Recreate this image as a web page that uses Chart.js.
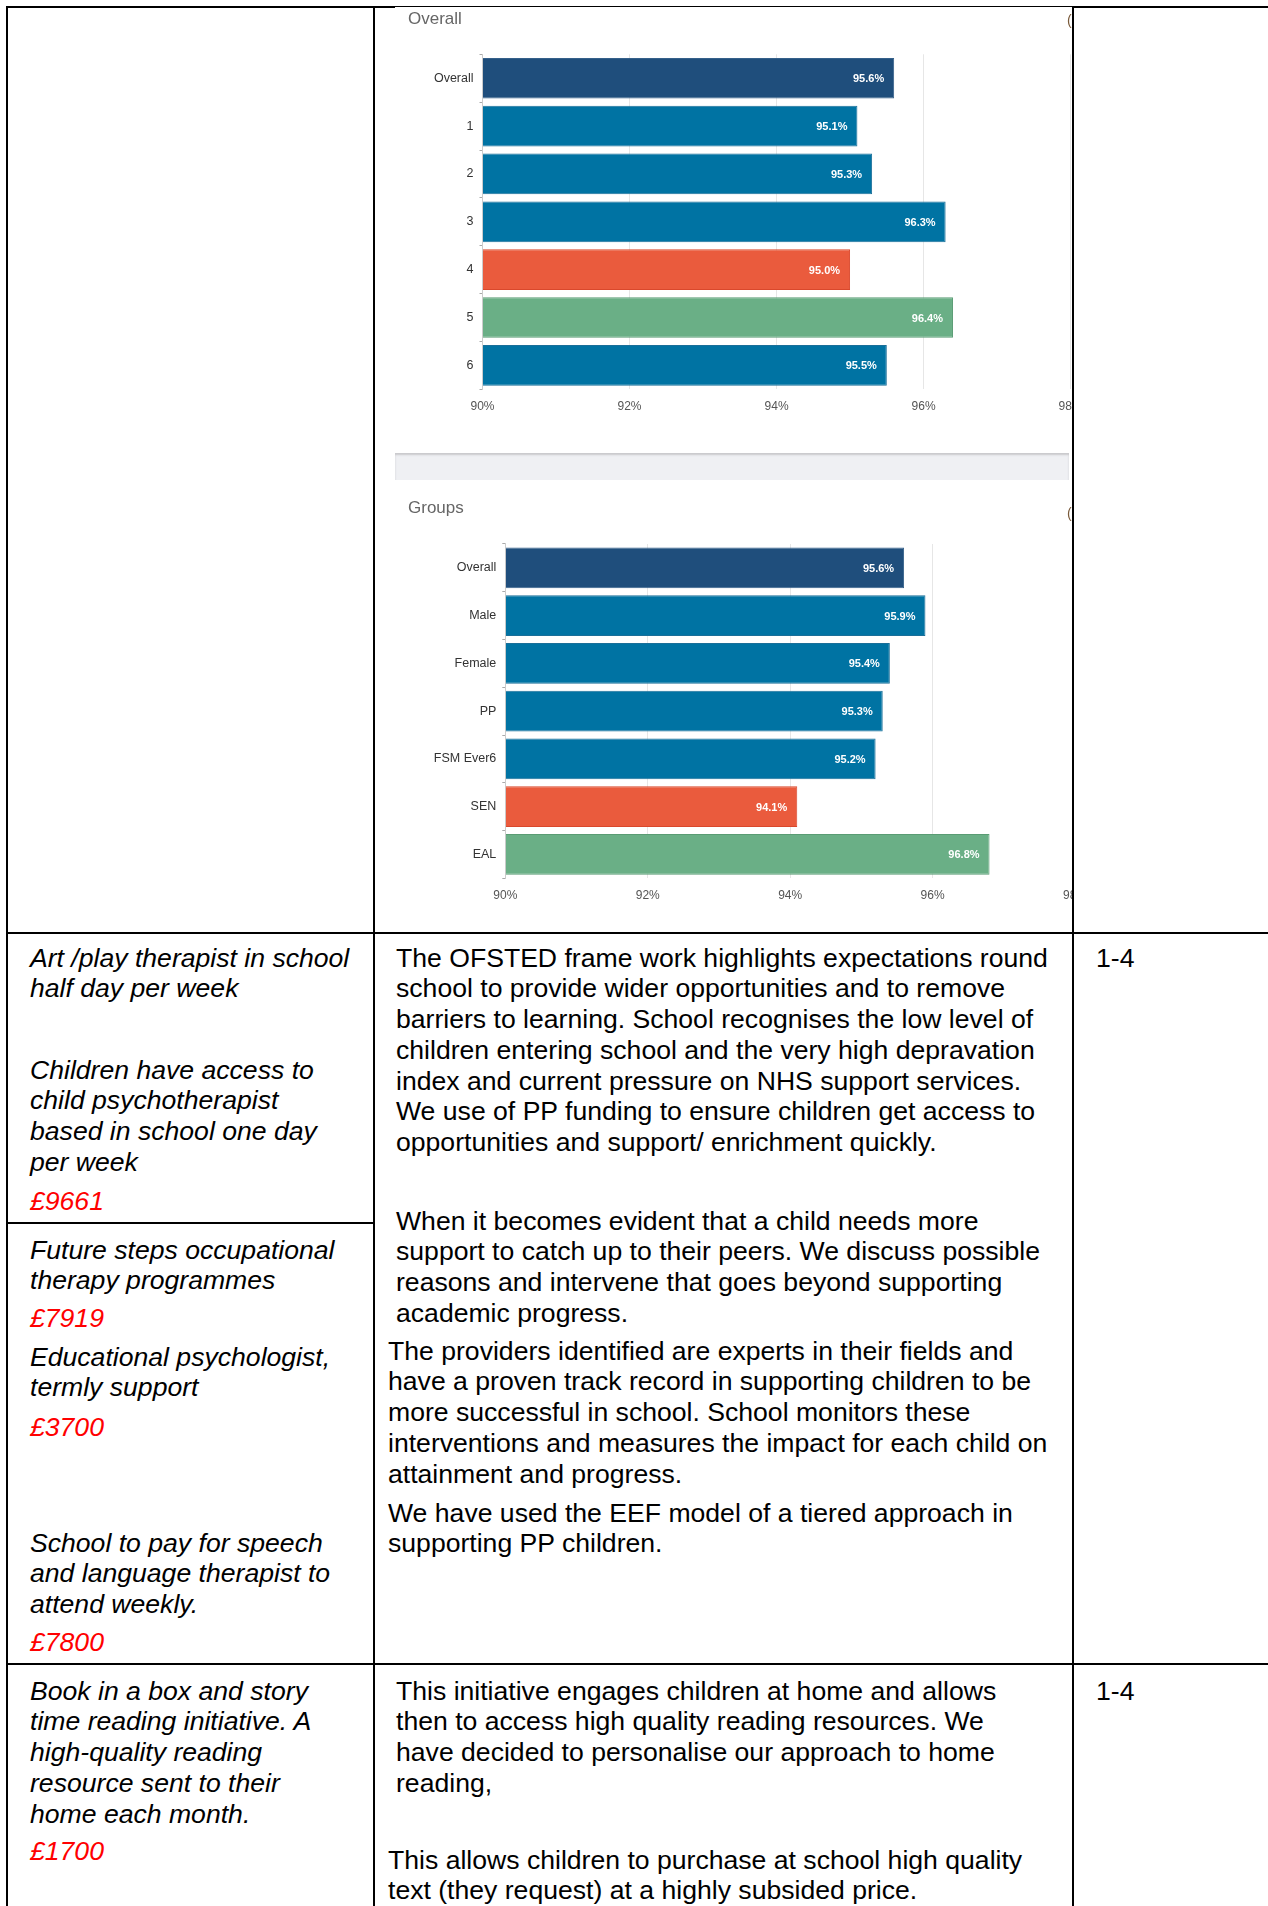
<!DOCTYPE html>
<html>
<head>
<meta charset="utf-8">
<script src="https://cdn.jsdelivr.net/npm/chart.js@4.4.0/dist/chart.umd.min.js"></script>
<style>
  html, body { margin: 0; padding: 0; background: #fff; }
  body { position: relative; width: 1268px; height: 1906px; overflow: hidden;
         font-family: "Liberation Sans", Arial, sans-serif; color: #000; }
  .ln { position: absolute; background: #000; }
  .t { position: absolute; font-size: 26.6px; line-height: 30.8px; white-space: pre; margin-top: 1.5px; }
  .i { font-style: italic; }
  .red { color: #ff0000; }
  .panel { position: absolute; overflow: hidden; background: #fff; }
  .band { position: absolute; left: 395px; top: 453px; width: 674px; height: 27px;
          background: #eff0f3; box-shadow: inset 0 2px 2px #c9c9cc; }
  .ico { position: absolute; font-size: 14px; color: #7a5a3a; }
</style>
</head>
<body>

<!-- table rules -->
<div class="ln" style="left:6px;top:6px;width:1262px;height:2px"></div>
<div class="ln" style="left:6px;top:6px;width:2px;height:1900px"></div>
<div class="ln" style="left:373px;top:6px;width:2px;height:1900px"></div>
<div class="ln" style="left:1072px;top:6px;width:2px;height:1900px"></div>
<div class="ln" style="left:6px;top:932px;width:1262px;height:2px"></div>
<div class="ln" style="left:6px;top:1222px;width:368px;height:2px"></div>
<div class="ln" style="left:6px;top:1663px;width:1262px;height:2px"></div>

<!-- charts -->
<div class="panel" style="left:395px;top:7px;width:677px;height:446px">
  <canvas id="overallChart" width="720" height="446"></canvas>
</div>
<div class="band"></div>
<div class="panel" style="left:395px;top:480px;width:677px;height:452px">
  <canvas id="groupsChart" width="720" height="452"></canvas>
</div>
<div class="ico" style="left:1067px;top:12px">(</div>
<div class="ico" style="left:1067px;top:505px">(</div>

<!-- left column -->
<div class="t i" style="left:30px;top:941px">Art /play therapist in school
half day per week</div>
<div class="t i" style="left:30px;top:1053px">Children have access to
child psychotherapist
based in school one day
per week</div>
<div class="t i red" style="left:30px;top:1184px">£9661</div>
<div class="t i" style="left:30px;top:1233px">Future steps occupational
therapy programmes</div>
<div class="t i red" style="left:30px;top:1301px">£7919</div>
<div class="t i" style="left:30px;top:1340px">Educational psychologist,
termly support</div>
<div class="t i red" style="left:30px;top:1410px">£3700</div>
<div class="t i" style="left:30px;top:1526px">School to pay for speech
and language therapist to
attend weekly.</div>
<div class="t i red" style="left:30px;top:1625px">£7800</div>
<div class="t i" style="left:30px;top:1674px">Book in a box and story
time reading initiative. A
high-quality reading
resource sent to their
home each month.</div>
<div class="t i red" style="left:30px;top:1834px">£1700</div>

<!-- middle column -->
<div class="t" style="left:396px;top:941px">The OFSTED frame work highlights expectations round
school to provide wider opportunities and to remove
barriers to learning. School recognises the low level of
children entering school and the very high depravation
index and current pressure on NHS support services.
We use of PP funding to ensure children get access to
opportunities and support/ enrichment quickly.</div>
<div class="t" style="left:396px;top:1204px">When it becomes evident that a child needs more
support to catch up to their peers. We discuss possible
reasons and intervene that goes beyond supporting
academic progress.</div>
<div class="t" style="left:388px;top:1334px">The providers identified are experts in their fields and
have a proven track record in supporting children to be
more successful in school. School monitors these
interventions and measures the impact for each child on
attainment and progress.</div>
<div class="t" style="left:388px;top:1496px">We have used the EEF model of a tiered approach in
supporting PP children.</div>
<div class="t" style="left:396px;top:1674px">This initiative engages children at home and allows
then to access high quality reading resources. We
have decided to personalise our approach to home
reading,</div>
<div class="t" style="left:388px;top:1843px">This allows children to purchase at school high quality
text (they request) at a highly subsided price.</div>

<!-- right column -->
<div class="t" style="left:1096px;top:941px">1-4</div>
<div class="t" style="left:1096px;top:1674px">1-4</div>

<script>
// data
const overallLabels = ["Overall", "1", "2", "3", "4", "5", "6"];
const overallValues = [95.6, 95.1, 95.3, 96.3, 95.0, 96.4, 95.5];
const groupLabels = ["Overall", "Male", "Female", "PP", "FSM Ever6", "SEN", "EAL"];
const groupValues = [95.6, 95.9, 95.4, 95.3, 95.2, 94.1, 96.8];
const axisMin = 90;
const axisMax = 98;
const axisStep = 2;

const navy = "#1f4e7c";
const blue = "#0073a3";
const red = "#ea5b3d";
const green = "#6aaf86";
const overallColors = [navy, blue, blue, blue, red, green, blue];
const groupColors = [navy, blue, blue, blue, blue, red, green];
const borderOf = {};
borderOf[navy] = "#35608a";
borderOf[blue] = "#1a6f99";
borderOf[red] = "#d9482c";
borderOf[green] = "#5a9c74";

Chart.defaults.font.family = '"Liberation Sans", Arial, sans-serif';
Chart.defaults.animation = false;

const valueLabels = {
  id: "valueLabels",
  afterDatasetsDraw(chart) {
    const ctx = chart.ctx;
    const meta = chart.getDatasetMeta(0);
    const data = chart.data.datasets[0].data;
    ctx.save();
    ctx.fillStyle = "#ffffff";
    ctx.font = 'bold 11px "Liberation Sans", Arial, sans-serif';
    ctx.textAlign = "right";
    ctx.textBaseline = "middle";
    meta.data.forEach(function (bar, i) {
      ctx.fillText(data[i].toFixed(1) + "%", bar.x - 10, bar.y + 1);
    });
    ctx.restore();
  },
};

function makeChart(id, title, labels, values, colors, g) {
  return new Chart(document.getElementById(id), {
    type: "bar",
    data: {
      labels: labels,
      datasets: [
        {
          data: values,
          base: axisMin,
          backgroundColor: colors,
          borderColor: colors.map((c) => borderOf[c]),
          borderWidth: 1,
          barPercentage: 0.85,
          categoryPercentage: 1,
        },
      ],
    },
    options: {
      indexAxis: "y",
      responsive: false,
      layout: { padding: { left: 13, right: g.padRight, top: 0, bottom: 0 } },
      plugins: {
        legend: { display: false },
        tooltip: { enabled: false },
        title: {
          display: true,
          text: title,
          align: "start",
          color: "#666",
          font: { size: 17, weight: "normal" },
          padding: { top: g.titleTop, bottom: g.titleBottom },
        },
      },
      scales: {
        x: {
          type: "linear",
          min: axisMin,
          max: axisMax,
          ticks: {
            stepSize: axisStep,
            color: "#555",
            font: { size: 12 },
            padding: 10,
            callback: (v) => v + "%",
          },
          grid: { color: "#e6e6e6", drawTicks: false },
          border: { display: false },
          afterFit: (s) => { s.height = g.xHeight; },
        },
        y: {
          ticks: { color: "#333", font: { size: 12.5 }, padding: 6 },
          grid: { drawOnChartArea: false, tickLength: 3, color: "#aaa" },
          border: { color: "#ccc" },
          afterFit: (s) => { s.width = g.yWidth; },
        },
      },
    },
    plugins: [valueLabels],
  });
}

window.onload = function () {
  makeChart("overallChart", "Overall", overallLabels, overallValues, overallColors,
    { padRight: 44.4, titleTop: 2.5, titleBottom: 24.4, xHeight: 63.7, yWidth: 74.5 });
  makeChart("groupsChart", "Groups", groupLabels, groupValues, groupColors,
    { padRight: 40, titleTop: 18.4, titleBottom: 25.2, xHeight: 53.7, yWidth: 97.3 });
};
</script>
</body>
</html>
